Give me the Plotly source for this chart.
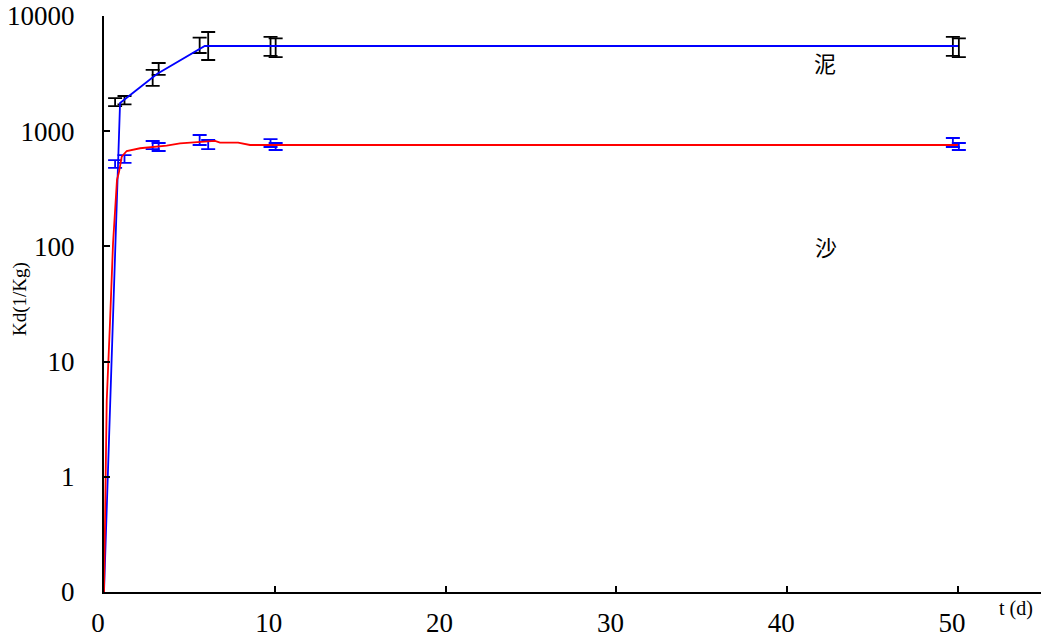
import plotly.graph_objects as go

# ---- fitted curves ----
mud_line_t = [0, 0.94, 3.1, 5.9, 10, 50]
mud_line_kd = [0.1, 1760, 3140, 5490, 5490, 5490]

sand_line_t = [0, 0.16, 0.35, 0.53, 0.76, 0.88, 1.04, 1.33, 2.11, 3.67, 4.45,
               5.62, 6.01, 6.5, 6.79, 7.85, 8.55, 11.5, 50]
sand_line_kd = [0.1, 4.6, 21.6, 107, 377, 443, 601, 673, 711, 749, 785,
                801, 811, 825, 795, 795, 759, 759, 759]

# ---- measured values (two replicate series) ----
t_a = [0.65, 2.85, 5.6, 9.75, 49.7]
t_b = [1.2, 3.2, 6.1, 10.05, 50.05]

mud_a = [1780, 2900, 5560, 5400, 5400]
mud_a_up = [160, 500, 930, 1200, 1200]
mud_a_dn = [130, 430, 785, 900, 900]
mud_b = [1850, 3470, 5500, 5300, 5300]
mud_b_up = [170, 440, 1760, 1100, 1100]
mud_b_dn = [140, 390, 1350, 900, 900]

sand_a = [520, 760, 840, 790, 800]
sand_a_up = [42, 62, 87, 65, 73]
sand_a_dn = [40, 60, 81, 61, 71]
sand_b = [575, 730, 770, 738, 738]
sand_b_up = [46, 60, 69, 52, 52]
sand_b_dn = [45, 57, 70, 51, 51]

x_ticks = [0, 10, 20, 30, 40, 50]
y_ticks = [0.1, 1, 10, 100, 1000, 10000]
y_tick_text = ["0", "1", "10", "100", "1000", "10000"]

SERIF = "Liberation Serif"
CJK = "Noto Sans CJK SC"

fig = go.Figure()


def err_trace(x, y, up, dn, color):
    return go.Scatter(
        x=x, y=y, mode="markers",
        marker=dict(size=1, color="rgba(0,0,0,0)"),
        error_y=dict(type="data", array=up, arrayminus=dn, symmetric=False,
                     color=color, thickness=1.8, width=7),
        showlegend=False, hoverinfo="skip")


fig.add_trace(err_trace(t_a, mud_a, mud_a_up, mud_a_dn, "black"))
fig.add_trace(err_trace(t_b, mud_b, mud_b_up, mud_b_dn, "black"))
fig.add_trace(err_trace(t_a, sand_a, sand_a_up, sand_a_dn, "#0000FF"))
fig.add_trace(err_trace(t_b, sand_b, sand_b_up, sand_b_dn, "#0000FF"))

fig.add_trace(go.Scatter(x=mud_line_t, y=mud_line_kd, mode="lines",
                         line=dict(color="#0000FF", width=1.8), showlegend=False))
fig.add_trace(go.Scatter(x=sand_line_t, y=sand_line_kd, mode="lines",
                         line=dict(color="#FF0000", width=1.8),
                         showlegend=False))


def label(text, x, y, font, angle=0):
    return dict(text=text, xref="paper", yref="paper", x=x, y=y,
                xanchor="center", yanchor="middle", textangle=angle,
                showarrow=False, font=font)


fig.update_layout(
    width=1043, height=643,
    margin=dict(l=104, r=2, t=16, b=51),
    paper_bgcolor="white", plot_bgcolor="white",
    showlegend=False,
    xaxis=dict(range=[0, 54.86], tickvals=x_ticks, ticks="inside", ticklen=6,
               tickwidth=1.5, tickcolor="black", showline=True, linecolor="black",
               linewidth=2, showgrid=False, zeroline=False, automargin=False,
               ticklabeloverflow="allow",
               tickfont=dict(family=SERIF, size=27, color="black"),
               ticklabelstandoff=6, ticklabelshift=-6),
    yaxis=dict(type="log", range=[-1, 4], tickvals=y_ticks, ticktext=y_tick_text,
               ticks="inside", ticklen=6, tickwidth=1.5, tickcolor="black",
               showline=True, linecolor="black", linewidth=2, showgrid=False,
               zeroline=False, automargin=False, ticklabeloverflow="allow",
               tickfont=dict(family=SERIF, size=27, color="black"),
               ticklabelstandoff=22),
    annotations=[
        label("泥", 0.7695, 0.920, dict(family=CJK, size=22, color="black")),
        label("沙", 0.7705, 0.6007, dict(family=CJK, size=22, color="black")),
        label("t (d)", 0.973, -0.0278, dict(family=SERIF, size=20, color="black")),
        label("Kd(1/Kg)", -0.0896, 0.5087, dict(family=SERIF, size=19, color="black"), -90),
    ],
)

fig.write_html(
    "out.html",
    config={"displayModeBar": False},
    post_script="document.body.style.margin='0';document.body.style.overflow='hidden';",
)
